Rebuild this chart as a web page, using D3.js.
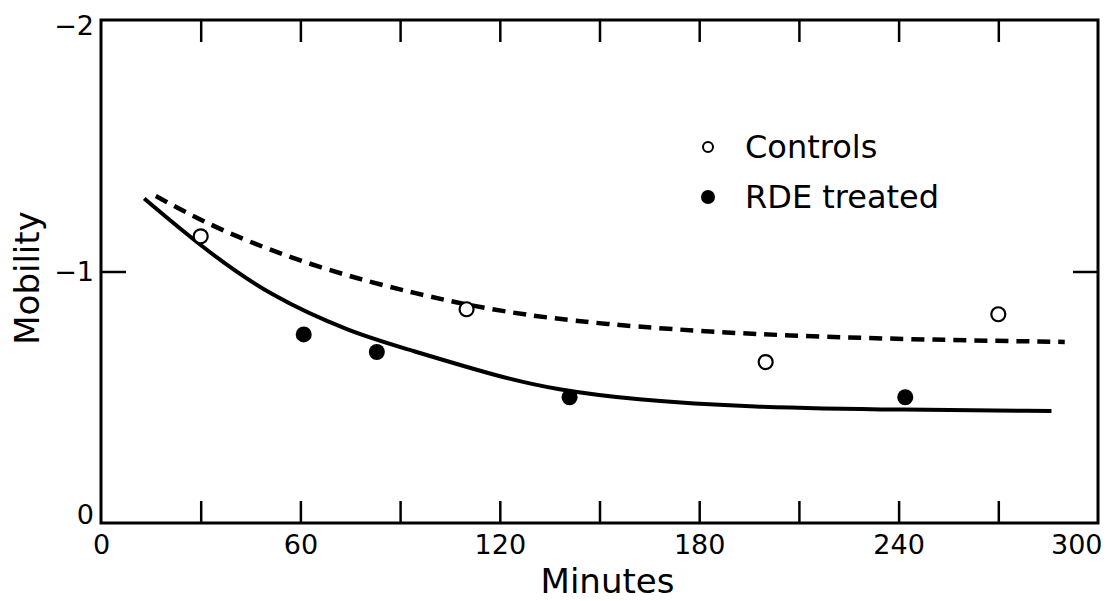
<!DOCTYPE html>
<html>
<head>
<meta charset="utf-8">
<script src="https://cdn.jsdelivr.net/npm/d3@7"></script>
<style>
  body { margin: 0; background: white; }
  text { font-family: "DejaVu Sans", sans-serif; fill: black; }
</style>
</head>
<body>
<svg id="chart" width="1108" height="601"></svg>
<script>
// controls (open circles)
const controlMinutes = [30, 110, 200, 270];
const controlMobility = [-1.14, -0.85, -0.64, -0.83];

// RDE treated (filled circles)
const treatedMinutes = [61, 83, 141, 242];
const treatedMobility = [-0.75, -0.68, -0.50, -0.50];

// fitted curves
const solidMinutes = [13, 30, 51, 76, 90, 120, 137, 160, 195, 242, 286];
const solidMobility = [-1.29, -1.10, -0.90, -0.755, -0.70, -0.58, -0.53, -0.49, -0.46, -0.45, -0.445];
const dashMinutes = [16.5, 36, 66, 95, 120, 150, 194, 242, 290];
const dashMobility = [-1.30, -1.16, -1.01, -0.91, -0.84, -0.79, -0.75, -0.73, -0.72];

const xTickLabels = [0, 60, 120, 180, 240, 300];
const xMinorTicks = [30, 60, 90, 120, 150, 180, 210, 240, 270];
const yTickLabels = [-2, -1, 0];

const margin = { top: 20, right: 10, bottom: 78, left: 101 };
const width = 1108 - margin.left - margin.right;
const height = 601 - margin.top - margin.bottom;

const svg = d3.select("svg#chart");
const g = svg.append("g").attr("transform", "translate(" + margin.left + "," + margin.top + ")");

const x = d3.scaleLinear().domain([0, 300]).range([0, width]);
const y = d3.scaleLinear().domain([0, -2]).range([height, 0]);

//frame
g.append("rect").attr("x", 0).attr("y", 0).attr("width", width).attr("height", height)
  .attr("fill", "none").attr("stroke", "black").attr("stroke-width", 3);

//inward ticks on bottom and top
g.append("g").attr("transform", "translate(0," + height + ")")
  .call(d3.axisBottom(x).tickValues(xMinorTicks).tickSize(-22).tickFormat(""))
  .call(a => a.select(".domain").remove())
  .selectAll("line").attr("stroke-width", 2.5);
g.append("g")
  .call(d3.axisTop(x).tickValues(xMinorTicks).tickSize(-22).tickFormat(""))
  .call(a => a.select(".domain").remove())
  .selectAll("line").attr("stroke-width", 2.5);

//y ticks at -1 on both sides
g.append("g")
  .call(d3.axisLeft(y).tickValues([-1]).tickSize(-25).tickFormat(""))
  .call(a => a.select(".domain").remove())
  .selectAll("line").attr("stroke-width", 2.5);
g.append("g").attr("transform", "translate(" + width + ",0)")
  .call(d3.axisRight(y).tickValues([-1]).tickSize(-25).tickFormat(""))
  .call(a => a.select(".domain").remove())
  .selectAll("line").attr("stroke-width", 2.5);

//tick labels
g.append("g").attr("transform", "translate(0," + height + ")")
  .call(d3.axisBottom(x).tickValues(xTickLabels).tickSize(0).tickPadding(12))
  .call(a => a.select(".domain").remove())
  .selectAll("text").style("font-size", "27px").style("font-family", "DejaVu Sans, sans-serif")
  .attr("text-anchor", d => d === 300 ? "end" : "middle")
  .attr("dx", d => d === 300 ? "4" : "0");

g.append("g")
  .call(d3.axisLeft(y).tickValues(yTickLabels).tickSize(0).tickPadding(7)
    .tickFormat(d => d === 0 ? "0" : "\u2212" + Math.abs(d)))
  .call(a => a.select(".domain").remove())
  .selectAll("text").style("font-size", "27px").style("font-family", "DejaVu Sans, sans-serif")
  .attr("dy", d => d === -2 ? "0.55em" : d === 0 ? "0.0em" : "0.32em");

//axis titles
svg.append("text").attr("x", margin.left + width / 2 + 8).attr("y", 593)
  .attr("text-anchor", "middle").style("font-size", "34px").text("Minutes");
svg.append("text").attr("transform", "translate(39," + 278 + ") rotate(-90)")
  .attr("text-anchor", "middle").style("font-size", "34px").text("Mobility");

//curves
const line = d3.line().x(d => x(d[0])).y(d => y(d[1])).curve(d3.curveBasis);
g.append("path").datum(d3.zip(solidMinutes, solidMobility)).attr("d", line)
  .attr("fill", "none").attr("stroke", "black").attr("stroke-width", 4);
g.append("path").datum(d3.zip(dashMinutes, dashMobility)).attr("d", line)
  .attr("fill", "none").attr("stroke", "black").attr("stroke-width", 4.5)
  .attr("stroke-dasharray", "13,8");

//points
g.selectAll(".control").data(d3.zip(controlMinutes, controlMobility)).enter()
  .append("circle").attr("class", "control")
  .attr("cx", d => x(d[0])).attr("cy", d => y(d[1])).attr("r", 7)
  .attr("fill", "white").attr("stroke", "black").attr("stroke-width", 2.2);
g.selectAll(".treated").data(d3.zip(treatedMinutes, treatedMobility)).enter()
  .append("circle").attr("class", "treated")
  .attr("cx", d => x(d[0])).attr("cy", d => y(d[1])).attr("r", 8)
  .attr("fill", "black");

//legend
const legend = svg.append("g").attr("transform", "translate(708,147)");
legend.append("circle").attr("cx", 0).attr("cy", 0).attr("r", 5).attr("fill", "white")
  .attr("stroke", "black").attr("stroke-width", 2);
legend.append("text").attr("x", 37).attr("y", 11).style("font-size", "32px").text("Controls");
legend.append("circle").attr("cx", 0).attr("cy", 50).attr("r", 7).attr("fill", "black");
legend.append("text").attr("x", 37).attr("y", 61).style("font-size", "32px").text("RDE treated");
</script>
</body>
</html>
